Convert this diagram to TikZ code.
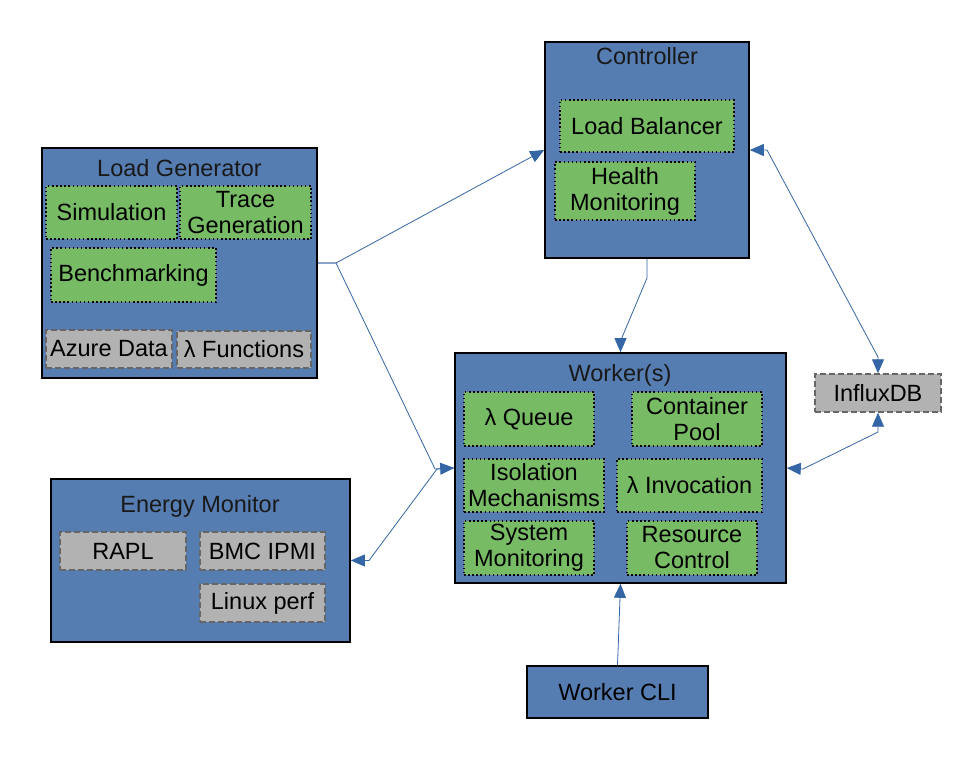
\documentclass[tikz,border=0pt]{standalone}
\usepackage{fontspec}
\setmainfont{Liberation Sans}
\usetikzlibrary{arrows.meta}
\definecolor{boxblue}{RGB}{86,125,178}
\definecolor{boxgreen}{RGB}{119,188,101}
\definecolor{boxgray}{RGB}{178,178,178}
\definecolor{dashgray}{RGB}{102,102,102}
\definecolor{linkblue}{RGB}{52,101,164}
\tikzset{
  txt/.style={font=\fontsize{23.5}{26}\selectfont},
  outerbox/.style={draw=black, line width=1.6pt, fill=boxblue, inner sep=0pt},
  innerbox/.style={draw=black, dash pattern=on 1.5pt off 2.6pt, line width=1.5pt, fill=boxgreen, inner sep=0pt, align=center, txt},
  graybox/.style={draw=dashgray, dash pattern=on 6pt off 3pt, line width=1.4pt, fill=boxgray, inner sep=0pt, align=center, txt},
  titletext/.style={inner sep=0pt, txt, text=black!90},
  link/.style={draw=linkblue, line width=0.8pt, -{Triangle[length=14pt,width=12pt]}},
  dlink/.style={draw=linkblue, line width=0.8pt, {Triangle[length=14pt,width=12pt]}-{Triangle[length=14pt,width=12pt]}},
}
\begin{document}
\begin{tikzpicture}[x=1pt,y=-1pt]
\useasboundingbox (0,0) rectangle (960,768);
% Load Generator
\node[outerbox, minimum width=275, minimum height=230] (lg) at (179.5,263) {};
\node[titletext] (lgt) at (179.5,168) {Load Generator};
\node[innerbox, minimum width=131, minimum height=53] (sim) at (111.5,212.5) {Simulation};
\node[innerbox, minimum width=131, minimum height=53] (trace) at (245.5,212.5) {Trace\\Generation};
\node[innerbox, minimum width=165, minimum height=54] (bench) at (133.5,275) {Benchmarking};
\node[graybox, minimum width=126, minimum height=38] (azure) at (109,349) {Azure Data};
\node[graybox, minimum width=134, minimum height=37] (lfun) at (244,349.5) {λ Functions};
% Controller
\node[outerbox, minimum width=204, minimum height=216] (ctrl) at (647,150) {};
\node[titletext] (ctrlt) at (647,56) {Controller};
\node[innerbox, minimum width=174, minimum height=52] (lb) at (647,126) {Load Balancer};
\node[innerbox, minimum width=140, minimum height=58] (hm) at (625,191) {Health\\Monitoring};
% Worker
\node[outerbox, minimum width=331, minimum height=230] (wk) at (620.5,468) {};
\node[titletext] (wkt) at (620,375) {Worker(s)};
\node[innerbox, minimum width=130, minimum height=54] (queue) at (529,419) {λ Queue};
\node[innerbox, minimum width=130, minimum height=54] (pool) at (697,419) {Container\\Pool};
\node[innerbox, minimum width=140, minimum height=53] (iso) at (534,485.5) {Isolation\\Mechanisms};
\node[innerbox, minimum width=145, minimum height=53] (inv) at (689.5,485.5) {λ Invocation};
\node[innerbox, minimum width=130, minimum height=54] (sysmon) at (529,548) {System\\Monitoring};
\node[innerbox, minimum width=130, minimum height=54] (rc) at (692,548) {Resource\\Control};
% Energy Monitor
\node[outerbox, minimum width=299, minimum height=163] (em) at (200.5,560.5) {};
\node[titletext] (emt) at (200,506) {Energy Monitor};
\node[graybox, minimum width=126, minimum height=38] (rapl) at (123,551) {RAPL};
\node[graybox, minimum width=125, minimum height=38] (bmc) at (262.5,551) {BMC IPMI};
\node[graybox, minimum width=125, minimum height=38] (perf) at (262.5,603) {Linux perf};
% InfluxDB
\node[graybox, minimum width=126, minimum height=38] (influx) at (878,393) {InfluxDB};
% Worker CLI
\node[outerbox, minimum width=181, minimum height=52, txt] (cli) at (617.5,692) {Worker CLI};
% bend points
\coordinate (b1) at (336,263);
\coordinate (b2) at (435,469);
\coordinate (b3) at (437,469);
\coordinate (b4) at (369,560.5);
\coordinate (b5) at (647,278);
\coordinate (b6) at (620.5,341);
\coordinate (b7) at (767,150);
\coordinate (b8) at (878,357);
\coordinate (b9) at (803,469);
\coordinate (b10) at (878,432);
% connectors
\draw[link] (lg.east) -- (b1) -- (ctrl.west);
\draw[link] (lg.east) -- (b1) -- (b2) -- (wk.west);
\draw[link] (wk.west) -- (b3) -- (b4) -- (em.east);
\draw[link] (ctrl.south) -- (b5) -- (b6) -- (wk.north);
\draw[dlink] (ctrl.east) -- (b7) -- (b8) -- (influx.north);
\draw[dlink] (wk.east) -- (b9) -- (b10) -- (influx.south);
\draw[link] (cli.north) -- (wk.south);
\end{tikzpicture}
\end{document}
